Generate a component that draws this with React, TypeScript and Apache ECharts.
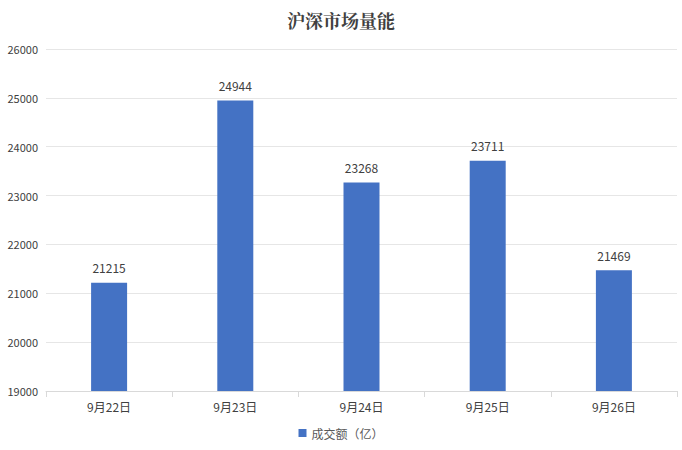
import React, { useEffect, useRef } from "react";
import * as echarts from "echarts";

const categories = ["9月22日", "9月23日", "9月24日", "9月25日", "9月26日"];
const volumes = [21215, 24944, 23268, 23711, 21469];
const seriesName = "成交额（亿）";

const App = () => {
    const chartRef = useRef(null);

    useEffect(() => {
        if (!chartRef.current) return;
        const chart = echarts.init(chartRef.current, null, { renderer: "svg" });

        const font = "'Microsoft YaHei', 'Noto Sans CJK SC', sans-serif";
        const options = {
            animation: false,
            textStyle: { fontFamily: font },
            title: {
                text: "沪深市场量能",
                left: "center",
                top: 6,
                textStyle: {
                    fontFamily: "'Noto Serif CJK SC', 'Noto Sans CJK SC', serif",
                    fontSize: 18,
                    fontWeight: "bold",
                    color: "#404040",
                },
            },
            legend: {
                bottom: 6,
                left: "center",
                icon: "rect",
                itemWidth: 8,
                itemHeight: 8,
                itemGap: 4,
                textStyle: { fontSize: 12, color: "#595959", fontFamily: font },
                data: [seriesName],
            },
            grid: { left: 46, right: 5, top: 49, bottom: 59 },
            xAxis: {
                type: "category",
                data: categories,
                axisLine: { lineStyle: { color: "#d9d9d9" } },
                axisTick: { show: true, length: 6, alignWithLabel: false, lineStyle: { color: "#d9d9d9" } },
                axisLabel: { color: "#404040", fontSize: 12, margin: 9 },
            },
            yAxis: {
                type: "value",
                min: 19000,
                max: 26000,
                interval: 1000,
                axisLine: { show: false },
                axisTick: { show: false },
                axisLabel: {
                    color: "#404040",
                    fontSize: 11,
                    margin: 8,
                    align: "right",
                    formatter: (v) => String(v),
                },
                splitLine: { lineStyle: { color: "#e6e6e6" } },
            },
            series: [
                {
                    name: seriesName,
                    type: "bar",
                    barWidth: 36,
                    data: volumes,
                    itemStyle: { color: "#4472C4" },
                    label: {
                        show: true,
                        position: "top",
                        distance: 9,
                        color: "#404040",
                        fontSize: 12,
                    },
                },
            ],
        };

        chart.setOption(options);
        return () => chart.dispose();
    }, []);

    return (
        <div
            ref={chartRef}
            style={{ position: "absolute", left: 0, top: 0, width: "682px", height: "450px", background: "#fff" }}
        />
    );
};

export default App;
